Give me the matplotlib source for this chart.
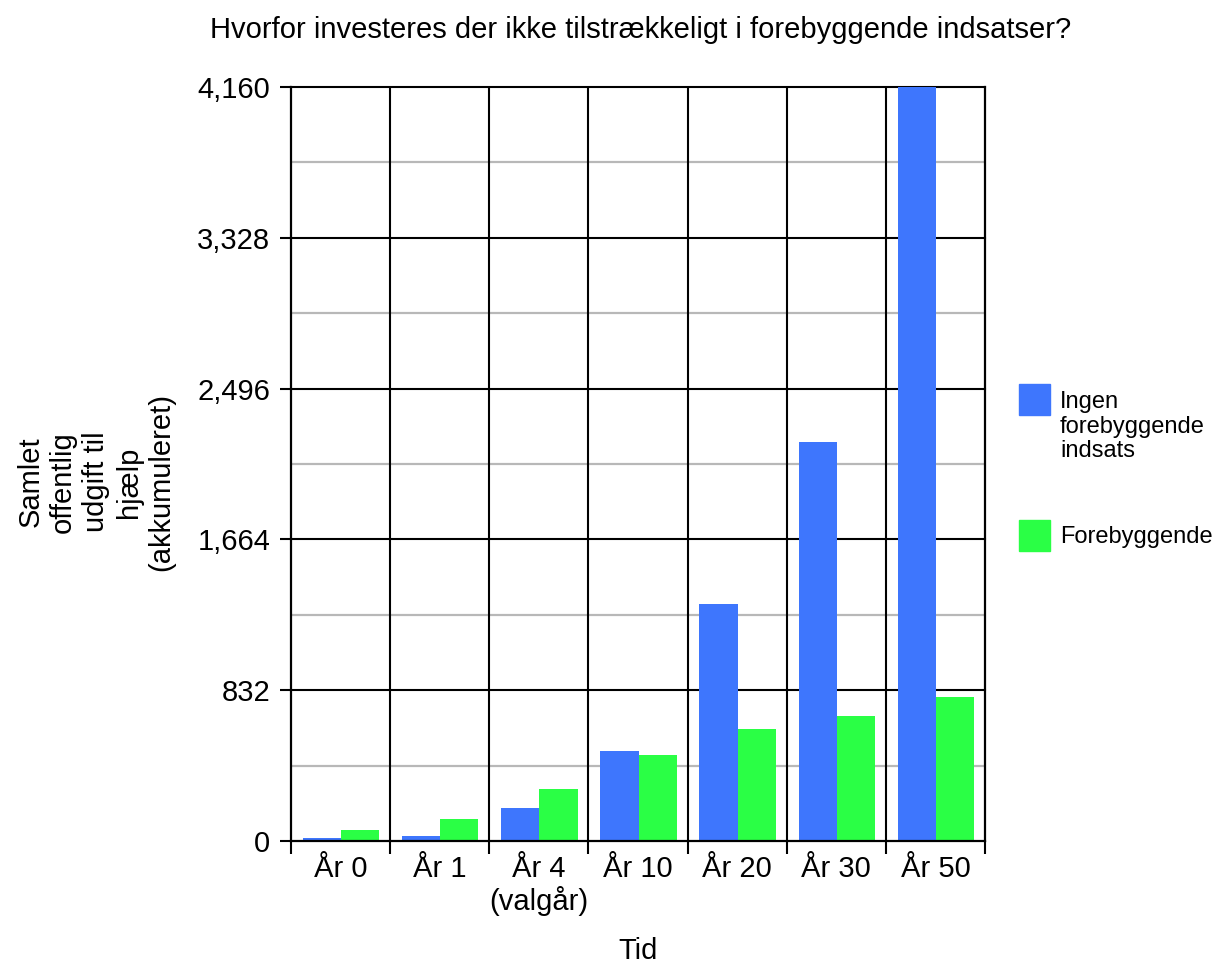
import matplotlib
matplotlib.use("Agg")
import matplotlib.pyplot as plt
import numpy as np
from matplotlib.patches import Rectangle
from matplotlib.ticker import FuncFormatter

plt.rcParams['font.family'] = ['Liberation Sans', 'DejaVu Sans']

categories = ['År 0', 'År 1', 'År 4\n(valgår)', 'År 10', 'År 20', 'År 30', 'År 50']
ingen = [15, 27, 182, 498, 1306, 2204, 4160]
forebyg = [60, 121, 286, 474, 617, 689, 793]
series_names = ['Ingen\nforebyggende\nindsats', 'Forebyggende']
colors = ['#3e76fd', '#2aff45']
yticks = [0, 832, 1664, 2496, 3328, 4160]

fig = plt.figure(figsize=(12.14, 9.65), dpi=100)
ax = fig.add_axes([0.2397, 0.1285, 0.5717, 0.7813])

x = np.arange(len(categories))
w = 0.385
ax.bar(x - w/2 + 0.005, ingen, w, color=colors[0], zorder=3)
ax.bar(x + w/2 + 0.005, forebyg, w, color=colors[1], zorder=3)

ax.set_xlim(-0.5, len(categories) - 0.5)
ax.set_ylim(0, 4160)

# grid lines
for v in np.arange(416, 4160, 832):
    ax.axhline(v, color='#b8b8b8', lw=1.6, zorder=1)
for v in yticks[1:]:
    ax.axhline(v, color='black', lw=1.5, zorder=2, clip_on=False)
for b in np.arange(0.5, len(categories) - 0.5, 1):
    ax.axvline(b, color='black', lw=1.5, zorder=2)

ax.spines['top'].set_visible(False)
for s in ['left', 'right', 'bottom']:
    ax.spines[s].set_linewidth(1.6)
    ax.spines[s].set_zorder(4)

ax.set_yticks(yticks)
ax.yaxis.set_major_formatter(FuncFormatter(lambda v, p: f'{int(v):,}'))
ax.tick_params(axis='y', length=8, width=1.5, pad=7, labelsize=21)

ax.set_xticks(x)
ax.set_xticklabels(categories, linespacing=1.15)
ax.set_xticks(np.arange(-0.5, len(categories), 1), minor=True)
ax.tick_params(axis='x', which='major', length=0, pad=10, labelsize=21)
ax.tick_params(axis='x', which='minor', length=9, width=1.5)

ax.set_xlabel('Tid', fontsize=21, labelpad=15)
fig.text(0.079, 0.5005, 'Samlet\noffentlig\nudgift til\nhjælp\n(akkumuleret)',
         rotation=90, ha='center', va='center', fontsize=21, linespacing=1.22)

fig.suptitle('Hvorfor investeres der ikke tilstrækkeligt i forebyggende indsatser?',
             x=0.528, y=0.983, fontsize=21)

# legend
leg_y = [400, 536]
for name, c, yc in zip(series_names, colors, leg_y):
    fig.add_artist(Rectangle((1019 / 1214, 1 - (yc + 15) / 965), 31 / 1214, 31 / 965,
                             transform=fig.transFigure, color=c))
    multi = '\n' in name
    ty = yc - 9 if multi else yc + 1
    fig.text(1060 / 1214, 1 - ty / 965, name, ha='left',
             va='top' if multi else 'center', fontsize=17, linespacing=1.15)

fig.savefig('out.png', dpi=100)
